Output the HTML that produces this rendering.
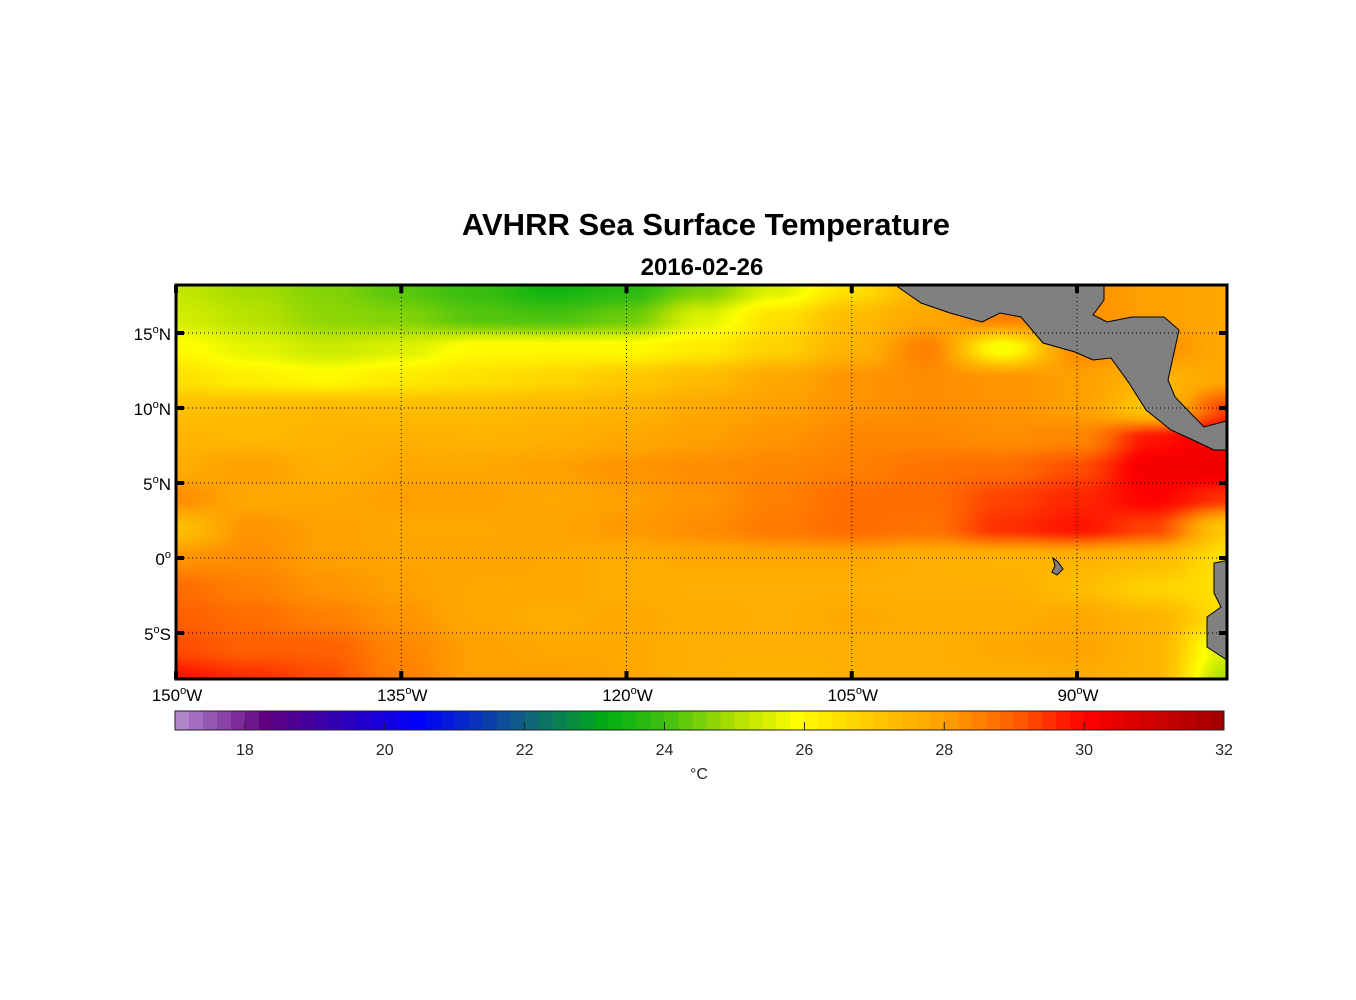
<!DOCTYPE html>
<html><head><meta charset="utf-8"><style>
body{margin:0;background:#fff;width:1356px;height:1000px;overflow:hidden;position:relative;font-family:"Liberation Sans",Arial,sans-serif}
#map{position:absolute;left:176px;top:285px}
svg{position:absolute;left:0;top:0}
</style></head><body>
<canvas id="map" width="1051" height="394"></canvas>
<svg id="ov" width="1356" height="1000"></svg>
<script>
const lons=[-150,-145,-140,-135,-130,-125,-120,-115,-110,-105,-100,-95,-90,-85,-80];
const lats=[18,16,14,12,10,8,6,4,2,0,-2,-4,-6,-8];
const sst=[
[25.2,24.9,24.6,24.2,23.9,23.4,23.7,24.5,25.5,26.5,27.5,28.3,28.2,28,27.8],
[25.4,25.1,24.7,24.6,24.2,24.1,24.4,25.5,26.5,27.3,27.8,28.5,28.3,28,27.8],
[26,25.6,25.3,25.5,26,26,26,26.3,26.8,27.5,28.5,25.8,28.3,28.3,27.8],
[26.5,26.2,26,26.3,26.5,26.7,27,27.3,27.8,28.2,28.3,28.2,28,27.5,27.8],
[27.2,27.3,27.4,27.3,27.3,27.4,27.5,27.8,28,28.2,28.3,28.2,28,27,29.3],
[27.5,27.4,27.5,27.6,27.5,27.6,27.8,28,28.2,28.4,28.4,28.3,28.4,29.8,30.3],
[27.7,28,27.6,27.8,27.8,28,28.2,28.3,28.4,28.5,28.7,28.8,29.2,30.2,30.3],
[28.3,27.8,27.8,28,28,27.8,28,28.2,28.5,28.8,28.8,29.3,29.6,30,29.5],
[27.2,28.2,28,27.8,27.8,27.9,28.1,28.3,28.6,28.8,28.7,29.5,29.8,29.3,27],
[28.2,28.3,28,27.9,27.9,27.8,27.7,27.8,27.8,27.8,27.6,27.5,27.5,27.3,26.5],
[28.8,28.5,28.2,28,27.8,27.8,27.7,27.6,27.6,27.6,27.6,27.6,27.3,26.8,26.5],
[29,28.8,28.5,28.2,27.8,27.7,27.8,27.7,27.6,27.8,27.7,27.7,27.8,27.5,26.5],
[29.2,29,29,28.4,28,27.8,27.8,27.6,27.6,27.6,27.6,27.8,27.9,27.5,25.5],
[29.8,29.5,29.2,28.5,28,28,27.8,27.6,27.5,27.6,27.6,27.6,27.7,27.5,25]];
const cbTicks=[18,20,22,24,26,28,30,32];
const lonTicks=[-150,-135,-120,-105,-90];
const latTicks=[15,10,5,0,-5];
const stops=[[17,[184,144,208]],[18.3,[96,0,128]],[19,[64,0,160]],[20.5,[0,0,255]],[22,[16,96,128]],[23.2,[0,176,16]],[24,[64,192,16]],[25,[176,224,0]],[25.9,[255,255,0]],[27,[255,200,0]],[28,[255,160,0]],[29,[255,96,0]],[30,[255,0,0]],[32,[160,0,0]]];
function cmap(v){if(v<=stops[0][0])return stops[0][1];for(let i=1;i<stops.length;i++){if(v<=stops[i][0]){const a=stops[i-1],b=stops[i],t=(v-a[0])/(b[0]-a[0]);return a[1].map((c,k)=>Math.round(c+(b[1][k]-c)*t));}}return stops[stops.length-1][1];}
const X0=176,X1=1227,Y0=285,Y1=679;
const lonMin=-150;
const x=lon=>X0+(lon-lonMin)*225.25/15;
const y=lat=>558-lat*15;
const cv=document.getElementById('map'),ctx=cv.getContext('2d');
const img=ctx.createImageData(cv.width,cv.height);
function val(lon,lat){let fi=(lon-lons[0])/5,fj=(lats[0]-lat)/2;fi=Math.max(0,Math.min(lons.length-1.0001,fi));fj=Math.max(0,Math.min(lats.length-1.0001,fj));
const i=Math.floor(fi),j=Math.floor(fj),ti=fi-i,tj=fj-j;const s=t=>t*t*(3-2*t);const a=s(ti),b=s(tj);
return (sst[j][i]*(1-a)+sst[j][i+1]*a)*(1-b)+(sst[j+1][i]*(1-a)+sst[j+1][i+1]*a)*b;}
for(let py=0;py<cv.height;py++){const lat=(558-(Y0+py))/15;for(let px=0;px<cv.width;px++){const lon=lonMin+px*15/225.25;const c=cmap(val(lon,lat));const o=(py*cv.width+px)*4;img.data[o]=c[0];img.data[o+1]=c[1];img.data[o+2]=c[2];img.data[o+3]=255;}}
ctx.putImageData(img,0,0);
const svg=document.getElementById('ov');const NS='http://www.w3.org/2000/svg';
function mk(t,at,parent){const e=document.createElementNS(NS,t);for(const k in at)e.setAttribute(k,at[k]);(parent||svg).appendChild(e);return e;}
const defs=mk('defs',{});const cp=mk('clipPath',{id:'fr'},defs);mk('rect',{x:X0,y:Y0,width:X1-X0,height:Y1-Y0},cp);
const land=[[[898,287],[921,303],[950,313],[982,322],[1000,313],[1021,317],[1043,343],[1075,352],[1093,360],[1111,358],[1129,383],[1146,410],[1171,430],[1193,440],[1214,450],[1230,450],[1230,420],[1204,427],[1175,397],[1168,380],[1179,330],[1164,317],[1132,317],[1107,322],[1093,315],[1104,300],[1104,284],[898,284]],
[[1230,560],[1214,563],[1214,593],[1221,607],[1207,617],[1207,647],[1230,662]],
[[1053,558],[1058,562],[1063,569],[1057,575],[1052,572],[1055,566]]];
const lg=mk('g',{'clip-path':'url(#fr)'});
land.forEach((p,i)=>{const e=mk('polygon',{points:p.map(q=>q.join(',')).join(' '),fill:'#808080',stroke:'#000','stroke-width':1},lg);

});
lonTicks.forEach(l=>{if(l>lonMin){const gl=mk('line',{x1:x(l),x2:x(l),y1:Y0,y2:Y1,stroke:'#000','stroke-width':1,'stroke-dasharray':'1,3'});

}
[[Y0,Y0+8],[Y1-8,Y1]].forEach(v=>mk('line',{x1:x(l),x2:x(l),y1:v[0],y2:v[1],stroke:'#000','stroke-width':4}));
const t=mk('text',{x:x(l)+1,y:701,'font-size':17,'text-anchor':'middle'});
t.innerHTML=Math.abs(l)+'<tspan dy="-7" font-size="11">o</tspan><tspan dy="7">W</tspan>';

});
latTicks.forEach(l=>{const gl=mk('line',{x1:X0,x2:X1,y1:y(l),y2:y(l),stroke:'#000','stroke-width':1,'stroke-dasharray':'1,3'});


[[X0,X0+8],[X1-8,X1]].forEach(v=>mk('line',{x1:v[0],x2:v[1],y1:y(l),y2:y(l),stroke:'#000','stroke-width':4}));
const t=mk('text',{x:171,y:y(l)+7,'font-size':17,'text-anchor':'end'});
t.innerHTML=Math.abs(l)+'<tspan dy="-7" font-size="11">o</tspan>'+(l==0?'':'<tspan dy="7">'+(l>0?'N':'S')+'</tspan>');

});
const fr=mk('rect',{x:X0,y:Y0,width:X1-X0,height:Y1-Y0,fill:'none',stroke:'#000','stroke-width':3});


const CX0=175,CX1=1224,CY=711,CH=19,cx=v=>CX0+(v-17)*(CX1-CX0)/15;
const cbg=mk('g',{});


for(let k=0;k<75;k++){const v=17+k*0.2;const c=cmap(v+0.1);const w=(k==74)?cx(32)-cx(v):cx(v+0.2)-cx(v)+0.6;mk('rect',{x:cx(v),y:CY,width:w,height:CH,fill:`rgb(${c})`},cbg);}
mk('rect',{x:CX0,y:CY,width:CX1-CX0,height:CH,fill:'none',stroke:'#222','stroke-width':1},cbg);
cbTicks.forEach(v=>{mk('line',{x1:cx(v),x2:cx(v),y1:CY+CH,y2:CY+CH-8,stroke:'#222'},cbg);
const t=mk('text',{x:cx(v),y:755,'font-size':16,'text-anchor':'middle',fill:'#262626'},cbg);t.textContent=v;

});
const u=mk('text',{x:699,y:779,'font-size':16,'text-anchor':'middle',fill:'#262626'});u.textContent='°C';


const ti=mk('text',{x:706,y:235,'font-size':31,'font-weight':'bold','text-anchor':'middle'});ti.textContent='AVHRR Sea Surface Temperature';


const st=mk('text',{x:702,y:275,'font-size':24,'font-weight':'bold','text-anchor':'middle'});st.textContent='2016-02-26';


</script></body></html>
